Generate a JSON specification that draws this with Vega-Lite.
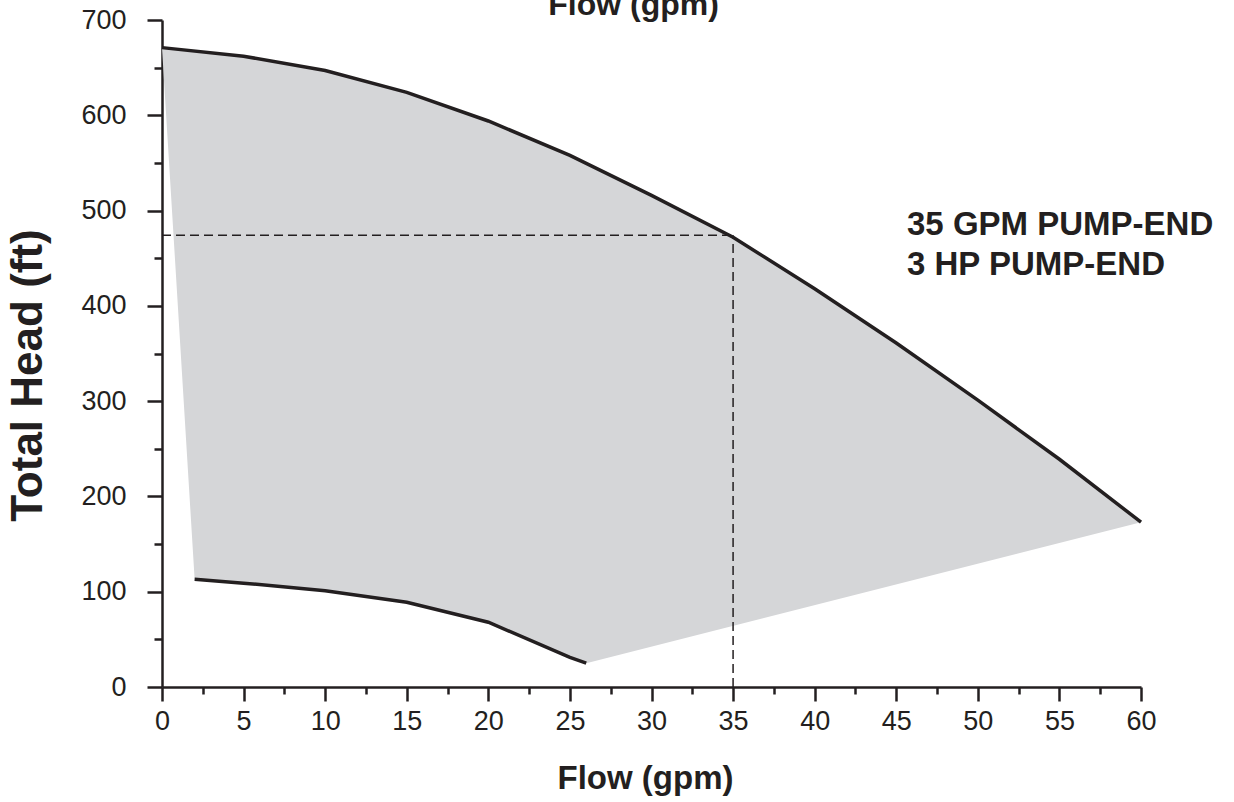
{
  "$schema": "https://vega.github.io/schema/vega-lite/v6.json",
  "width": 979,
  "height": 667,
  "autosize": {"type": "none"},
  "padding": {"left": 162, "top": 20, "right": 93, "bottom": 115},
  "background": "white",
  "config": {"view": {"stroke": null}, "font": "Liberation Sans"},
  "datasets": {
    "curves": [
      {"flow": 0, "head": 671, "curve": "upper", "o": 1},
      {"flow": 5, "head": 662, "curve": "upper", "o": 2},
      {"flow": 10, "head": 647, "curve": "upper", "o": 3},
      {"flow": 15, "head": 624, "curve": "upper", "o": 4},
      {"flow": 20, "head": 594, "curve": "upper", "o": 5},
      {"flow": 25, "head": 558, "curve": "upper", "o": 6},
      {"flow": 30, "head": 516, "curve": "upper", "o": 7},
      {"flow": 35, "head": 472, "curve": "upper", "o": 8},
      {"flow": 40, "head": 418, "curve": "upper", "o": 9},
      {"flow": 45, "head": 361, "curve": "upper", "o": 10},
      {"flow": 50, "head": 301, "curve": "upper", "o": 11},
      {"flow": 55, "head": 239, "curve": "upper", "o": 12},
      {"flow": 60, "head": 173, "curve": "upper", "o": 13},
      {"flow": 26, "head": 25, "curve": "lower", "o": 14},
      {"flow": 25, "head": 31, "curve": "lower", "o": 15},
      {"flow": 20, "head": 68, "curve": "lower", "o": 16},
      {"flow": 15, "head": 89, "curve": "lower", "o": 17},
      {"flow": 10, "head": 101, "curve": "lower", "o": 18},
      {"flow": 5, "head": 109, "curve": "lower", "o": 19},
      {"flow": 2, "head": 113, "curve": "lower", "o": 20}
    ],
    "guides": [
      {"flow": 0, "flow2": 35, "head": 474, "head2": 474},
      {"flow": 35, "flow2": 35, "head": 0, "head2": 474}
    ],
    "notes": [
      {"flow": 45.66, "head": 474, "text": "35 GPM PUMP-END"},
      {"flow": 45.66, "head": 432, "text": "3 HP PUMP-END"}
    ],
    "toptitle": [
      {"flow": 28.9, "head": 705, "text": "Flow (gpm)"}
    ]
  },
  "encoding": {
    "x": {
      "field": "flow", "type": "quantitative",
      "scale": {"domain": [0, 60], "nice": false, "zero": false},
      "axis": {
        "values": [0, 2.5, 5, 7.5, 10, 12.5, 15, 17.5, 20, 22.5, 25, 27.5, 30, 32.5, 35, 37.5, 40, 42.5, 45, 47.5, 50, 52.5, 55, 57.5, 60],
        "labelExpr": "datum.value % 5 === 0 ? datum.label : ''",
        "tickSize": {"condition": {"test": "datum.value % 5 === 0", "value": 14}, "value": 7},
        "tickWidth": 2.5, "tickColor": "#231f20",
        "domainColor": "#231f20", "domainWidth": 2.5,
        "labelFont": "Liberation Sans", "labelFontSize": 27, "labelColor": "#231f20", "labelPadding": 7,
        "labelOverlap": false, "labelFlush": false,
        "title": "Flow (gpm)", "titleFont": "Liberation Sans", "titleFontSize": 33, "titleFontWeight": "bold",
        "titleColor": "#231f20", "titlePadding": 28, "titleX": 483,
        "grid": false
      }
    },
    "y": {
      "field": "head", "type": "quantitative",
      "scale": {"domain": [0, 700], "nice": false},
      "axis": {
        "values": [0, 50, 100, 150, 200, 250, 300, 350, 400, 450, 500, 550, 600, 650, 700],
        "labelExpr": "datum.value % 100 === 0 ? datum.label : ''",
        "tickSize": {"condition": {"test": "datum.value % 100 === 0", "value": 15}, "value": 8},
        "tickWidth": 2.5, "tickColor": "#231f20",
        "domainColor": "#231f20", "domainWidth": 2.5,
        "labelFont": "Liberation Sans", "labelFontSize": 27, "labelColor": "#231f20", "labelPadding": 21,
        "labelOverlap": false, "labelFlush": false,
        "title": "Total Head (ft)", "titleFont": "Liberation Sans", "titleFontSize": 44, "titleFontWeight": "bold",
        "titleColor": "#231f20", "titlePadding": 30, "titleY": 355,
        "grid": false
      }
    }
  },
  "layer": [
    {
      "data": {"name": "curves"},
      "mark": {"type": "line", "fill": "#d5d6d8", "strokeOpacity": 0, "strokeWidth": 0},
      "encoding": {"order": {"field": "o", "type": "quantitative"}}
    },
    {
      "data": {"name": "guides"},
      "mark": {"type": "rule", "color": "#231f20", "strokeWidth": 1.5, "strokeDash": [9, 5]},
      "encoding": {"x2": {"field": "flow2"}, "y2": {"field": "head2"}}
    },
    {
      "data": {"name": "curves"},
      "mark": {"type": "line", "color": "#231f20", "strokeWidth": 3.5},
      "encoding": {
        "detail": {"field": "curve", "type": "nominal"},
        "order": {"field": "o", "type": "quantitative"}
      }
    },
    {
      "data": {"name": "notes"},
      "mark": {"type": "text", "align": "left", "baseline": "alphabetic", "font": "Liberation Sans", "fontWeight": "bold", "fontSize": 33, "color": "#231f20"},
      "encoding": {"text": {"field": "text"}}
    },
    {
      "data": {"name": "toptitle"},
      "mark": {"type": "text", "align": "center", "baseline": "alphabetic", "font": "Liberation Sans", "fontWeight": "bold", "fontSize": 32, "color": "#231f20"},
      "encoding": {"text": {"field": "text"}}
    }
  ]
}
